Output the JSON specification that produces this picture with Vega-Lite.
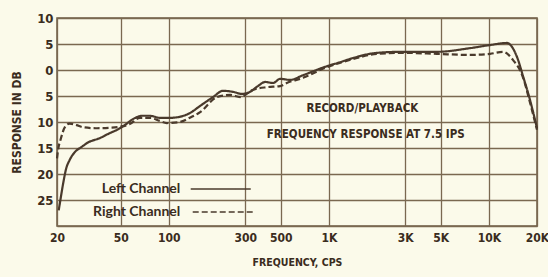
{
  "$schema": "https://vega.github.io/schema/vega-lite/v6.json",
  "width": 480,
  "height": 208,
  "autosize": "none",
  "padding": {"left": 57, "top": 18, "right": 11, "bottom": 51},
  "background": "#fbfaea",
  "config": {
    "view": {"stroke": "#6e5c46", "strokeWidth": 1.5},
    "font": "DejaVu Sans Condensed, Liberation Sans Narrow, DejaVu Sans, sans-serif"
  },
  "datasets": {
    "curves": [
      {"channel": "Left", "freq": 20.5, "db": -27},
      {"channel": "Left", "freq": 21, "db": -25},
      {"channel": "Left", "freq": 21.8, "db": -22},
      {"channel": "Left", "freq": 22.8, "db": -19},
      {"channel": "Left", "freq": 24, "db": -17.3},
      {"channel": "Left", "freq": 26, "db": -15.7},
      {"channel": "Left", "freq": 28.5, "db": -14.8},
      {"channel": "Left", "freq": 31, "db": -14.0},
      {"channel": "Left", "freq": 37, "db": -13.1},
      {"channel": "Left", "freq": 43, "db": -12.1},
      {"channel": "Left", "freq": 47.5, "db": -11.5},
      {"channel": "Left", "freq": 53, "db": -10.6},
      {"channel": "Left", "freq": 60, "db": -9.4},
      {"channel": "Left", "freq": 68, "db": -8.8},
      {"channel": "Left", "freq": 76, "db": -8.8},
      {"channel": "Left", "freq": 88, "db": -9.2},
      {"channel": "Left", "freq": 102, "db": -9.2},
      {"channel": "Left", "freq": 117, "db": -9.0},
      {"channel": "Left", "freq": 135, "db": -8.3},
      {"channel": "Left", "freq": 157, "db": -6.9},
      {"channel": "Left", "freq": 189, "db": -5.2},
      {"channel": "Left", "freq": 218, "db": -4.0},
      {"channel": "Left", "freq": 252, "db": -4.2},
      {"channel": "Left", "freq": 286, "db": -4.6},
      {"channel": "Left", "freq": 322, "db": -4.2},
      {"channel": "Left", "freq": 360, "db": -3.1},
      {"channel": "Left", "freq": 400, "db": -2.3},
      {"channel": "Left", "freq": 448, "db": -2.5},
      {"channel": "Left", "freq": 496, "db": -1.7},
      {"channel": "Left", "freq": 573, "db": -1.9},
      {"channel": "Left", "freq": 690, "db": -1.0},
      {"channel": "Left", "freq": 946, "db": 0.6},
      {"channel": "Left", "freq": 1175, "db": 1.5},
      {"channel": "Left", "freq": 1416, "db": 2.3},
      {"channel": "Left", "freq": 2000, "db": 3.3},
      {"channel": "Left", "freq": 2900, "db": 3.5},
      {"channel": "Left", "freq": 4740, "db": 3.5},
      {"channel": "Left", "freq": 7620, "db": 4.2},
      {"channel": "Left", "freq": 10180, "db": 4.8},
      {"channel": "Left", "freq": 12980, "db": 5.2},
      {"channel": "Left", "freq": 15000, "db": 2.5},
      {"channel": "Left", "freq": 16400, "db": -1.3},
      {"channel": "Left", "freq": 18100, "db": -5.8},
      {"channel": "Left", "freq": 20000, "db": -11.2},
      {"channel": "Right", "freq": 20, "db": -17},
      {"channel": "Right", "freq": 20.4, "db": -15},
      {"channel": "Right", "freq": 21, "db": -13.5},
      {"channel": "Right", "freq": 22.4, "db": -11.0},
      {"channel": "Right", "freq": 24, "db": -10.3},
      {"channel": "Right", "freq": 26.5, "db": -10.6},
      {"channel": "Right", "freq": 29, "db": -11.0},
      {"channel": "Right", "freq": 35, "db": -11.2},
      {"channel": "Right", "freq": 44, "db": -11.1},
      {"channel": "Right", "freq": 50, "db": -10.9},
      {"channel": "Right", "freq": 57, "db": -10.4},
      {"channel": "Right", "freq": 66, "db": -9.2},
      {"channel": "Right", "freq": 76, "db": -9.2},
      {"channel": "Right", "freq": 88, "db": -9.8},
      {"channel": "Right", "freq": 97, "db": -10.2},
      {"channel": "Right", "freq": 117, "db": -10.0},
      {"channel": "Right", "freq": 135, "db": -9.2},
      {"channel": "Right", "freq": 157, "db": -8.1},
      {"channel": "Right", "freq": 200, "db": -5.2},
      {"channel": "Right", "freq": 242, "db": -4.8},
      {"channel": "Right", "freq": 279, "db": -5.2},
      {"channel": "Right", "freq": 336, "db": -3.8},
      {"channel": "Right", "freq": 410, "db": -3.3},
      {"channel": "Right", "freq": 496, "db": -3.1},
      {"channel": "Right", "freq": 546, "db": -2.5},
      {"channel": "Right", "freq": 690, "db": -1.5},
      {"channel": "Right", "freq": 946, "db": 0.4},
      {"channel": "Right", "freq": 1416, "db": 2.1},
      {"channel": "Right", "freq": 2000, "db": 3.1},
      {"channel": "Right", "freq": 2900, "db": 3.3},
      {"channel": "Right", "freq": 4740, "db": 3.1},
      {"channel": "Right", "freq": 7620, "db": 2.9},
      {"channel": "Right", "freq": 10180, "db": 3.1},
      {"channel": "Right", "freq": 12280, "db": 3.5},
      {"channel": "Right", "freq": 14180, "db": 1.9},
      {"channel": "Right", "freq": 16300, "db": -1.3},
      {"channel": "Right", "freq": 18100, "db": -6.3},
      {"channel": "Right", "freq": 20000, "db": -11.5}
    ],
    "legendLines": [
      {"channel": "Left", "freq": 137, "db": -22.9},
      {"channel": "Left", "freq": 325, "db": -22.9},
      {"channel": "Right", "freq": 141, "db": -27.3},
      {"channel": "Right", "freq": 335, "db": -27.3}
    ],
    "legendText": [
      {"label": "Left Channel", "freq": 118, "db": -22.9},
      {"label": "Right Channel", "freq": 118, "db": -27.3}
    ],
    "notes": [
      {"label": "RECORD/PLAYBACK", "freq": 1620, "db": -7.5},
      {"label": "FREQUENCY RESPONSE AT 7.5 IPS", "freq": 1700, "db": -12.5}
    ]
  },
  "encoding": {
    "x": {
      "field": "freq",
      "type": "quantitative",
      "scale": {"type": "log", "domain": [20, 20000], "nice": false},
      "axis": {
        "values": [20, 50, 100, 300, 500, 1000, 3000, 5000, 10000, 20000],
        "labelExpr": "datum.value >= 1000 ? (datum.value/1000) + 'K' : datum.value",
        "title": "FREQUENCY, CPS",
        "titleFont": "DejaVu Sans Condensed, Liberation Sans Narrow, sans-serif",
        "titleFontSize": 10.5,
        "titleFontWeight": "bold",
        "titleColor": "#3a2c20",
        "titlePadding": 14,
        "labelFont": "DejaVu Sans Condensed, Liberation Sans Narrow, sans-serif",
        "labelFontSize": 12,
        "labelFontWeight": "bold",
        "labelColor": "#3a2c20",
        "labelPadding": 6,
        "labelFlush": false,
        "ticks": false,
        "domain": false,
        "grid": true,
        "gridColor": "#7a6850",
        "gridWidth": 1.3,
        "gridOpacity": 1
      }
    },
    "y": {
      "field": "db",
      "type": "quantitative",
      "scale": {"domain": [-30, 10], "nice": false},
      "axis": {
        "values": [-30, -25, -20, -15, -10, -5, 0, 5, 10],
        "labelExpr": "datum.value == -30 ? '' : abs(datum.value)",
        "title": "RESPONSE IN DB",
        "titleFont": "DejaVu Sans Condensed, Liberation Sans Narrow, sans-serif",
        "titleFontSize": 12,
        "titleFontWeight": "bold",
        "titleColor": "#3a2c20",
        "titlePadding": 13,
        "labelFont": "DejaVu Sans Condensed, Liberation Sans Narrow, sans-serif",
        "labelFontSize": 13,
        "labelFontWeight": "bold",
        "labelColor": "#3a2c20",
        "labelPadding": 4,
        "labelFlush": false,
        "ticks": false,
        "domain": false,
        "grid": true,
        "gridColor": "#7a6850",
        "gridWidth": 1.3,
        "gridOpacity": 1
      }
    }
  },
  "layer": [
    {
      "data": {"name": "curves"},
      "mark": {"type": "line", "interpolate": "monotone", "strokeWidth": 2.2, "color": "#4a3a2c"},
      "encoding": {
        "detail": {"field": "channel"},
        "strokeDash": {
          "field": "channel",
          "type": "nominal",
          "scale": {"domain": ["Left", "Right"], "range": [[1, 0], [6, 3]]},
          "legend": null
        }
      }
    },
    {
      "data": {"name": "legendLines"},
      "mark": {"type": "line", "strokeWidth": 1.5, "color": "#4a3a2c"},
      "encoding": {
        "detail": {"field": "channel"},
        "strokeDash": {
          "field": "channel",
          "type": "nominal",
          "scale": {"domain": ["Left", "Right"], "range": [[1, 0], [6, 3]]},
          "legend": null
        }
      }
    },
    {
      "data": {"name": "legendText"},
      "mark": {"type": "text", "align": "right", "baseline": "middle", "fontSize": 14, "fontWeight": "bold", "font": "Lato, DejaVu Sans, sans-serif", "color": "#3a2c20"},
      "encoding": {"text": {"field": "label"}}
    },
    {
      "data": {"name": "notes"},
      "mark": {"type": "text", "align": "center", "baseline": "middle", "fontSize": 11.5, "fontWeight": "bold", "font": "DejaVu Sans Condensed, Liberation Sans Narrow, sans-serif", "color": "#3a2c20"},
      "encoding": {"text": {"field": "label"}}
    }
  ]
}
